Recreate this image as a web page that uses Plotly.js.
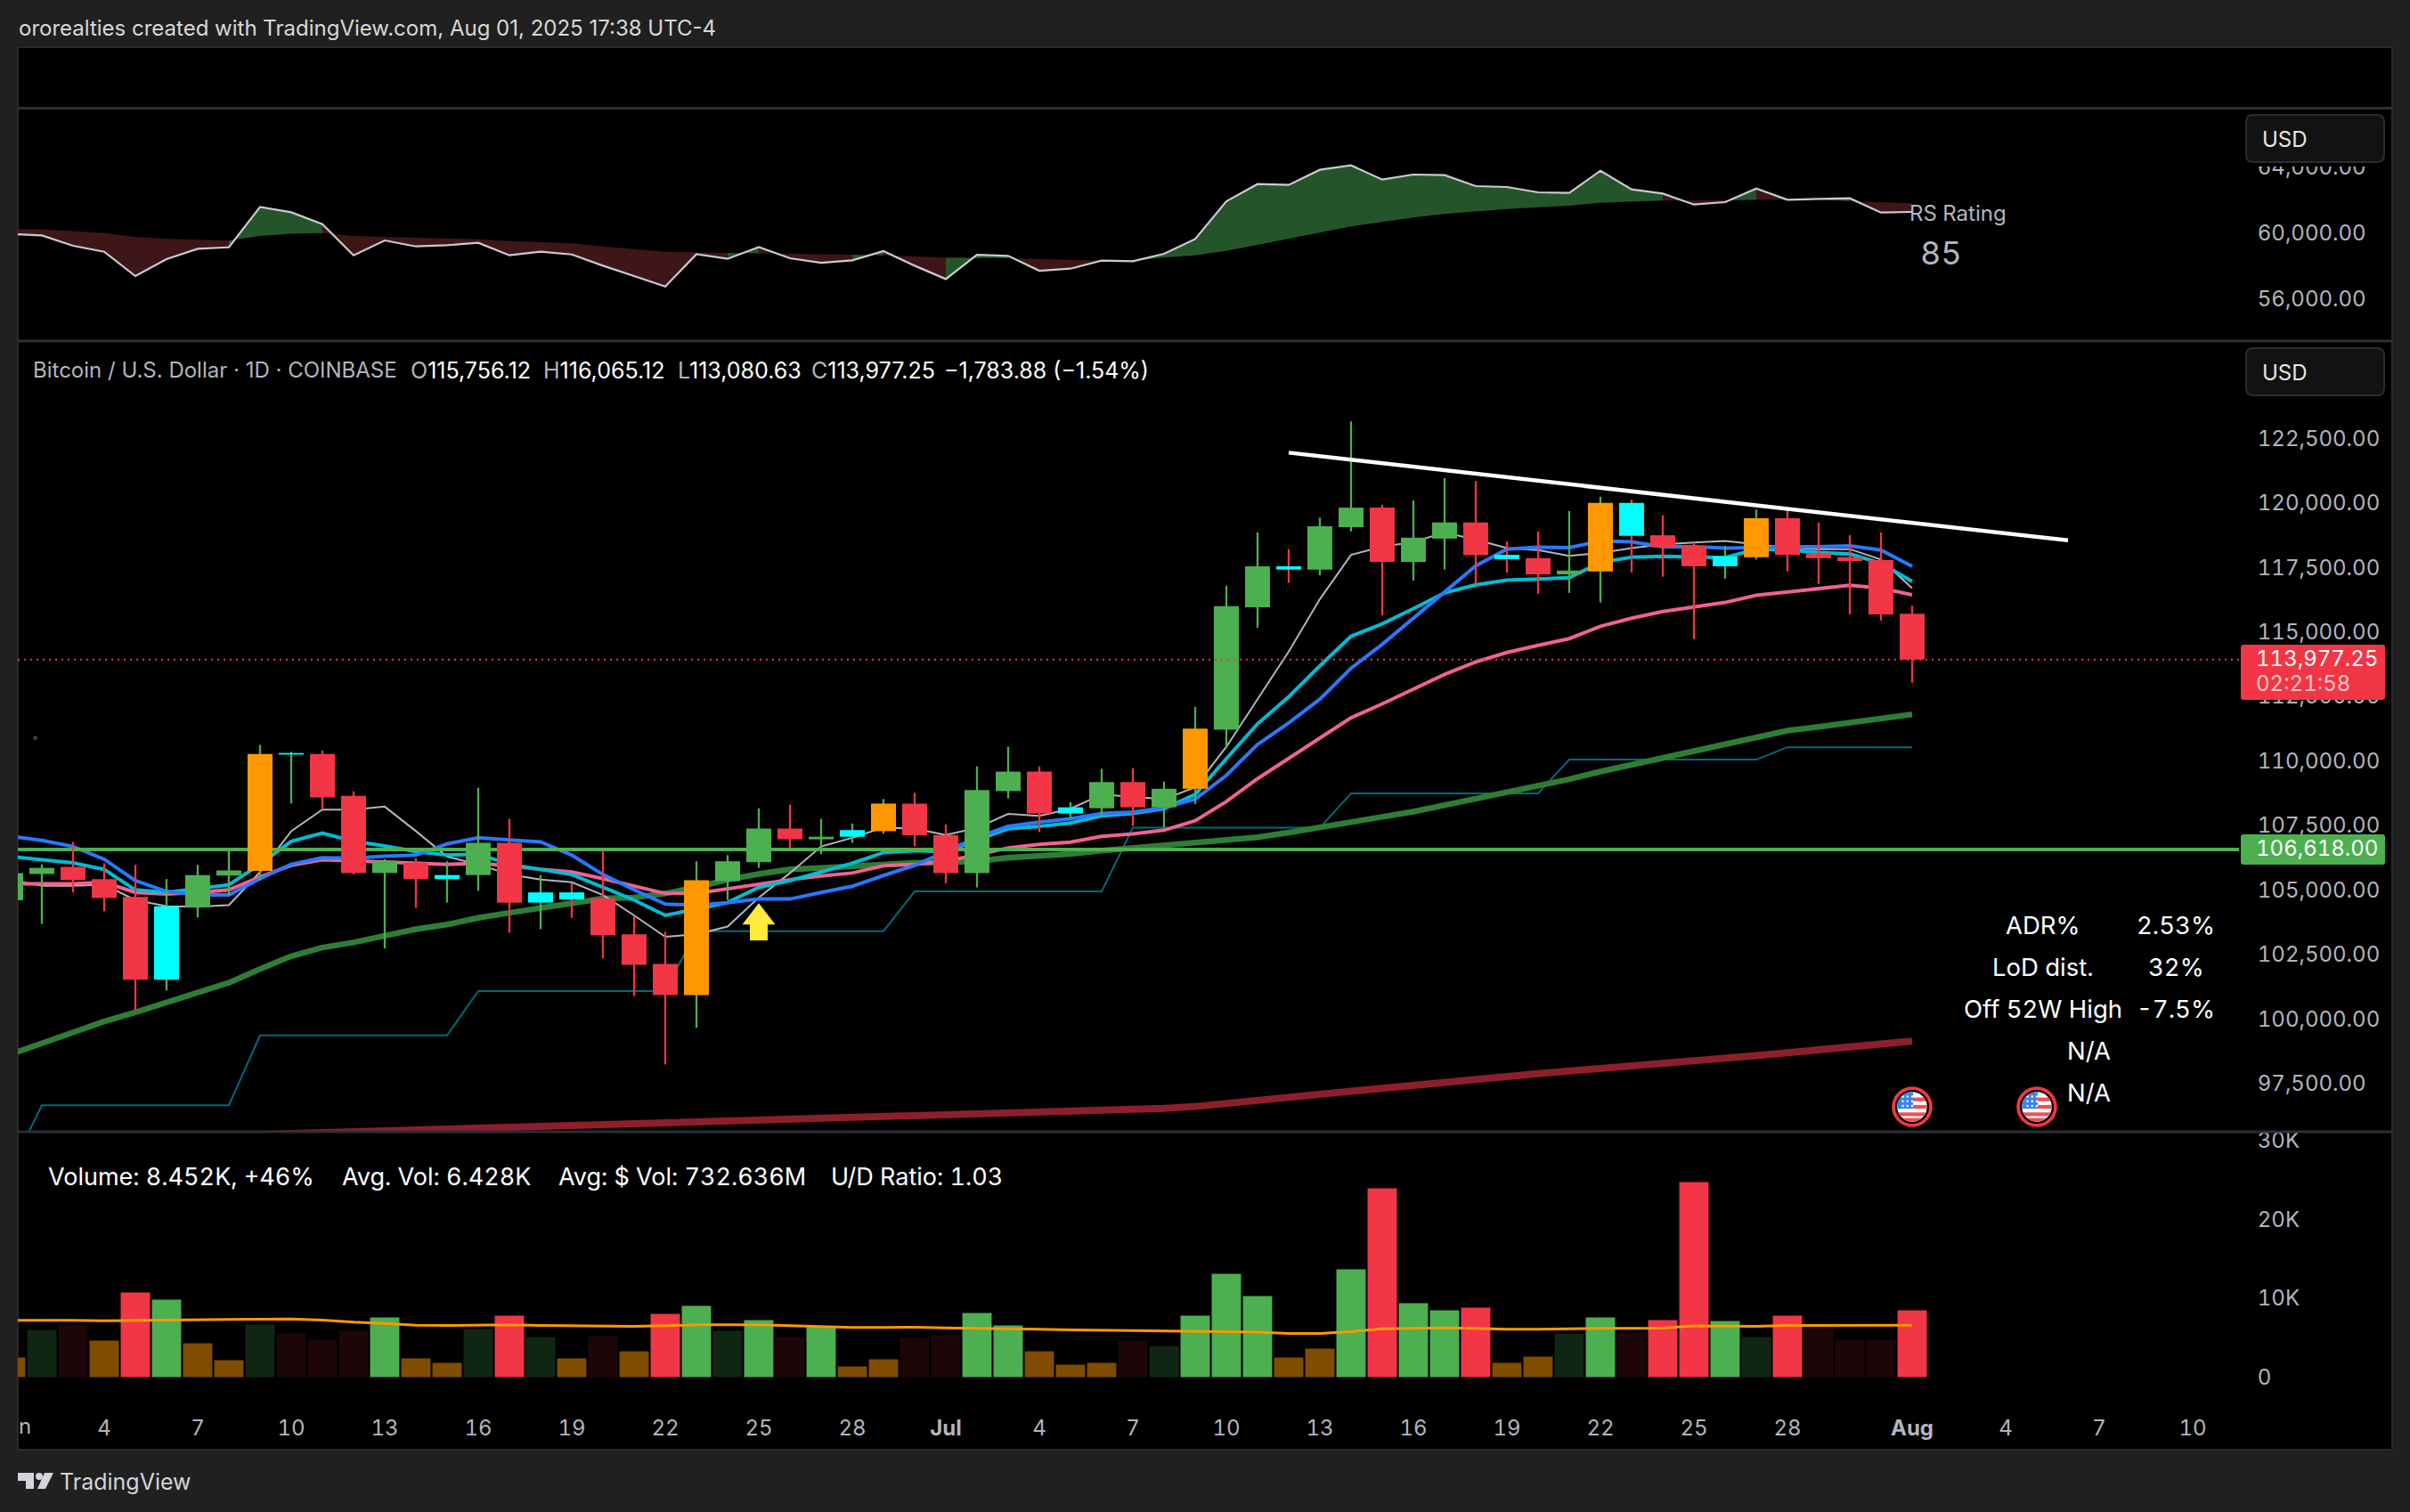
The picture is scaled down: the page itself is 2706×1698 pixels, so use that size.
<!DOCTYPE html>
<html><head><meta charset="utf-8">
<script src="https://cdn.plot.ly/plotly-3.0.1.min.js"></script>
<style>html,body{margin:0;padding:0;background:#202020;overflow:hidden}#c{width:2706px;height:1698px}
svg text{font-variant-numeric:tabular-nums;font-feature-settings:"tnum" 1}
.annotation[data-index="0"] text,.annotation[data-index="1"] text,.annotation[data-index="2"] text,.annotation[data-index="3"] text,.annotation[data-index="4"] text,.annotation[data-index="5"] text,.annotation[data-index="6"] text{font-variant-numeric:normal;font-feature-settings:"tnum" 0}</style>
</head><body><div id="c"></div>
<script>
const dates=["2025-06-01","2025-06-02","2025-06-03","2025-06-04","2025-06-05","2025-06-06","2025-06-07","2025-06-08","2025-06-09","2025-06-10","2025-06-11","2025-06-12","2025-06-13","2025-06-14","2025-06-15","2025-06-16","2025-06-17","2025-06-18","2025-06-19","2025-06-20","2025-06-21","2025-06-22","2025-06-23","2025-06-24","2025-06-25","2025-06-26","2025-06-27","2025-06-28","2025-06-29","2025-06-30","2025-07-01","2025-07-02","2025-07-03","2025-07-04","2025-07-05","2025-07-06","2025-07-07","2025-07-08","2025-07-09","2025-07-10","2025-07-11","2025-07-12","2025-07-13","2025-07-14","2025-07-15","2025-07-16","2025-07-17","2025-07-18","2025-07-19","2025-07-20","2025-07-21","2025-07-22","2025-07-23","2025-07-24","2025-07-25","2025-07-26","2025-07-27","2025-07-28","2025-07-29","2025-07-30","2025-07-31","2025-08-01"];
const opens=[104650,105665,105942,105467,104775,101569,104379,105606,105784,110296,110316,108693,105705,106101,105467,105626,106872,104557,104953,104715,103330,102182,100975,105388,106120,107427,107011,107110,107328,108396,107180,105702,108879,109636,108011,108214,109230,108251,108971,111262,116009,117597,117468,119112,119869,117763,118668,119296,118040,117911,117283,117394,120053,118798,118391,117597,117948,119462,118096,117948,117837,115756.12];
const closes=[105700,105903,105428,104735,101569,104419,105626,105804,110316,110356,108634,105705,106180,105467,105626,106872,104557,104953,104676,103290,102143,100975,105428,106160,107427,107011,107110,107367,108396,107169,105702,108916,109636,108011,108251,109230,108251,108971,111299,116045,117597,117468,119148,119869,117763,118705,119296,118022,117874,117283,117431,120053,118779,118336,117597,117985,119462,118040,117911,117800,115732,113977.25];
const highs=[105950,106041,106912,106081,106022,105467,106022,106556,110672,110400,110454,108871,106239,106279,106160,109010,107803,105626,105309,106556,104043,103429,106160,106398,108218,108357,107803,107624,108574,108812,107585,109840,110597,109840,108454,109747,109766,109249,112148,116840,118908,118262,119481,123212,119980,120146,121014,120903,118557,118945,119739,120294,120183,119573,118520,118391,119795,119832,119296,118798,118908,116065.12];
const lows=[104400,103726,104953,104221,100381,101153,103983,104854,105408,108396,108179,105650,102776,104359,104557,105012,103389,103528,103963,102400,100935,98284,99708,104656,105903,106675,106437,106872,107229,106734,105309,105148,108602,107291,107826,107863,107531,107475,108380,110560,115214,116951,117246,118945,115695,117043,117468,116914,117357,116526,116563,116193,117357,117191,114771,117117,117856,117394,116914,115732,115491,113080.63];
const candleClass=["G","G","R","R","R","C","G","G","O","C","R","R","G","R","C","G","R","C","C","R","R","R","O","G","G","R","G","C","O","R","R","G","G","R","C","G","R","G","O","G","G","C","G","G","R","G","G","R","C","R","G","O","C","R","R","C","O","R","R","R","R","R"];
const volumes=[2480,5980,6650,4620,10710,9810,4290,2140,6650,5530,4740,5860,7560,2370,1800,6090,7780,5080,2370,5190,3270,8010,9020,5860,7220,5080,6320,1350,2260,4960,5300,8120,6540,3270,1580,1800,4620,3950,7780,13080,10260,2480,3610,13650,23910,9360,8460,8800,1800,2590,5530,7560,5640,7220,24700,7110,5080,7780,6200,4740,4740,8452];
const volumeClass=["o","dg","dr","o","r","g","o","o","dg","dr","dr","dr","g","o","o","dg","r","dg","o","dr","o","r","g","dg","g","dr","g","o","o","dr","dr","g","g","o","o","o","dr","dg","g","g","g","o","o","g","r","g","g","r","o","o","dg","g","dr","r","r","g","dg","r","dr","dr","dr","r"];
const volumeMA=[7180,7220,7180,7140,7180,7260,7290,7290,7370,7370,7220,6950,6800,6580,6540,6620,6620,6540,6500,6430,6430,6500,6620,6620,6620,6500,6350,6280,6280,6320,6240,6200,6170,6050,5980,5940,5900,5860,5790,5710,5680,5530,5530,5750,6130,6170,6240,6170,6050,6050,6130,6170,6170,6200,6470,6430,6430,6540,6540,6500,6500,6580];
const maBlue=[107130,106971,106734,106239,105408,104992,104854,104854,105487,106041,106299,106279,106358,106398,106833,107070,106991,106912,106398,105646,105052,104498,104458,104557,104696,104696,104953,105190,105606,106002,106534,107088,107513,107678,107808,108011,108067,108233,108565,109489,110689,111521,112444,113644,114568,115584,116637,117615,118262,118336,118317,118576,118539,118354,118354,118299,118317,118354,118354,118391,118225,117597];
const maCyan=[106338,106219,106101,105844,105052,104953,105092,105250,106041,106932,107249,106932,106753,106536,106398,106437,106041,105844,105646,105151,104656,104062,104300,104557,105151,105408,105745,106081,106496,106576,106534,106995,107420,107513,107642,107919,108011,108196,108750,110135,111483,112536,113737,114882,115362,115953,116563,116877,117061,117098,117154,117745,117948,117985,117948,117930,118262,118225,118133,118077,117708,117006];
const maPink=[105289,105289,105289,105348,104953,104893,104953,105052,105547,106002,106219,106180,106140,106081,106041,106081,105982,105844,105745,105487,105210,104913,104913,105092,105289,105447,105586,105705,105982,106041,106165,106404,106681,106811,106903,107125,107217,107365,107734,108473,109360,110135,110930,111723,112259,112813,113404,113885,114254,114531,114790,115270,115584,115842,116009,116193,116470,116600,116747,116858,116747,116489];
const maGray=[105447,105210,105210,105250,104656,104419,104399,104458,105745,107328,108159,108159,108278,107328,106338,106041,105646,105447,105348,104854,104062,103231,103330,103627,104755,105705,106734,107070,107466,107427,107180,107457,107993,107919,108196,108750,108658,108565,109027,110597,112444,114291,116323,118040,118354,118539,118908,118631,118299,118225,118003,118114,118299,118447,118520,118576,118447,118317,118262,118262,117856,116747];
const maGreen=[98680,99115,99510,99946,100303,100698,101094,101450,101984,102479,102815,103014,103271,103528,103707,103964,104161,104359,104557,104715,104755,104913,105151,105447,105665,105844,105903,105982,106041,106101,106109,106165,106294,106367,106441,106570,106663,106755,106847,106977,107088,107272,107494,107715,107882,108085,108325,108565,108842,109101,109341,109636,109895,110172,110468,110726,110985,111225,111372,111520,111687,111853];
const maRed=[95290,95325,95360,95395,95430,95465,95500,95535,95570,95605,95640,95675,95710,95740,95768,95796,95824,95850,95885,95920,95955,95990,96025,96060,96095,96130,96170,96210,96250,96290,96330,96357,96375,96394,96420,96467,96523,96578,96652,96781,96910,97003,97114,97243,97354,97483,97594,97705,97816,97927,98019,98130,98222,98315,98407,98499,98628,98739,98850,98961,99072,99183];
const tealStep=[94230,96700,96700,96700,96700,96700,96700,96700,99410,99410,99410,99410,99410,99410,99410,101130,101130,101130,101130,101130,101130,101130,103450,103450,103450,103450,103450,103450,103450,104990,104990,104990,104990,104990,104990,104990,107460,107460,107460,107460,107460,107460,107460,108790,108790,108790,108790,108790,108790,108790,110100,110100,110100,110100,110100,110100,110100,110580,110580,110580,110580,110580];
const rsLine=[59962,59872,59241,58881,57403,58431,59061,59151,61602,61278,60557,58665,59566,59205,59277,59422,58665,58881,58719,58034,57403,56773,58737,58449,59169,58485,58214,58358,58917,58034,57223,58701,58629,57728,57854,58340,58304,58755,59656,61945,62991,62937,63856,64126,63261,63567,63531,62864,62810,62486,62450,63801,62666,62414,61747,61891,62720,62036,62090,62126,61261,61297];
const rsMA=[60269,60233,60142,60016,59782,59656,59602,59566,59836,59980,60016,59836,59782,59728,59692,59638,59530,59458,59386,59205,59061,58881,58845,58809,58791,58755,58719,58701,58665,58575,58521,58521,58485,58431,58376,58340,58304,58521,58665,58936,59296,59657,60053,60414,60684,60954,61171,61333,61477,61585,61675,61855,61927,61981,61981,61999,62036,62036,62036,61945,61873,61819];
const trendDates=["2025-07-12","2025-08-06"];
const trendPrices=[122000,118600];
const supportLevel=106618;
const lastClose=113977.25;
const priceTicks=[97500,100000,102500,105000,107500,110000,112500,115000,117500,120000,122500];
const rsTicks=[56000,60000,64000];
const volumeTicks=[0,10000,20000,30000];
const volumeTickText=["0","10K","20K","30K"];
const timeTickDates=["2025-06-04","2025-06-07","2025-06-10","2025-06-13","2025-06-16","2025-06-19","2025-06-22","2025-06-25","2025-06-28","2025-07-01","2025-07-04","2025-07-07","2025-07-10","2025-07-13","2025-07-16","2025-07-19","2025-07-22","2025-07-25","2025-07-28","2025-08-01","2025-08-04","2025-08-07","2025-08-10"];
const timeTickText=["4","7","10","13","16","19","22","25","28","<b>Jul</b>","4","7","10","13","16","19","22","25","28","<b>Aug</b>","4","7","10"];
const arrowDate=["2025-06-25"];
const arrowHead=[103983];
const arrowBase=[103090];
const arrowStem=[720];
const statLabels=["ADR%","LoD dist.","Off 52W High"];
const statValues=["2.53%","32%","-7.5%"];

const DAY=86400000, W=2706, H=1698;
const fx=p=>p/W, fy=p=>1-p/H;
const GREEN='#4caf50',RED='#f23645',ORANGE='#ff9800',CYAN='#00ffff';
const candleColor={G:GREEN,R:RED,O:ORANGE,C:CYAN};
const volColor={g:GREEN,r:RED,o:'#7f4c00',dg:'#0f2613',dr:'#1c0608'};
const font='Inter, "Noto Sans", sans-serif';
const xRange=['2025-06-01T05:30','2025-08-11T11:40'];
const line=(x,y,color,width,ya,extra)=>Object.assign({type:'scatter',mode:'lines',x,y,xaxis:'x',yaxis:ya,line:{color,width},hoverinfo:'skip',showlegend:false},extra||{});

const traces=[];
// RS fill: each day's segment takes the colour of that day's RS vs its MA
let s=0;
for(let i=1;i<=dates.length;i++){
  const up=k=>rsLine[k]>rsMA[k];
  if(i===dates.length||(i>1&&up(i)!==up(i-1))){
    const a=Math.max(s-1,0),b=i;
    const col=up(i-1)?'#24552a':'#3f1618';
    traces.push(line(dates.slice(a,b),rsMA.slice(a,b),'rgba(0,0,0,0)',0,'y'));
    traces.push(line(dates.slice(a,b),rsLine.slice(a,b),'rgba(0,0,0,0)',0,'y',{fill:'tonexty',fillcolor:col}));
    s=i;
  }
}
traces.push(line(dates,rsLine,'#c9cbd1',2.2,'y'));

// the price scale itself
traces.push(line(dates,closes,'rgba(0,0,0,0)',0,'y2'));
// moving averages under the candles
traces.push(line(dates,tealStep,'#006b7d',2,'y4'));
traces.push(line(dates,maRed,'#8c1f2b',8,'y4'));
traces.push(line(dates,maGreen,'#2f7d35',6.5,'y4'));
traces.push(line(dates,maGray,'#b2b5be',2,'y4'));
traces.push(line(dates,maPink,'#f06292',4,'y4'));
traces.push(line(dates,maCyan,'#00bcd4',4,'y4'));
traces.push(line(dates,maBlue,'#2979ff',4,'y4'));
traces.push(line([xRange[0],xRange[1]],[supportLevel,supportLevel],GREEN,4,'y4'));
traces.push({type:'scatter',mode:'markers',x:['2025-06-01T19:00'],y:[110945],xaxis:'x',yaxis:'y4',marker:{symbol:'square',size:4,color:'#454545'},hoverinfo:'skip',showlegend:false});

// candles, on an overlay axis so they sit above the lines
traces.push({type:'bar',x:dates,base:lows,y:highs.map((h,i)=>h-lows[i]),xaxis:'x',yaxis:'y5',width:0.065*DAY,
  marker:{color:closes.map((c,i)=>c>=opens[i]?GREEN:RED),line:{width:0}},hoverinfo:'skip',showlegend:false});
traces.push({type:'bar',x:dates,base:opens.map((o,i)=>Math.min(o,closes[i])),y:opens.map((o,i)=>Math.abs(o-closes[i])),xaxis:'x',yaxis:'y5',width:0.8*DAY,
  marker:{color:candleClass.map(k=>candleColor[k]),line:{width:0}},hoverinfo:'skip',showlegend:false});

// things above the candles
traces.push({type:'bar',x:arrowDate,base:arrowBase,y:arrowStem,xaxis:'x',yaxis:'y6',width:0.57*DAY,marker:{color:'#ffeb3b',line:{width:0}},hoverinfo:'skip',showlegend:false});
traces.push({type:'scatter',mode:'markers',x:arrowDate,y:arrowHead,xaxis:'x',yaxis:'y6',marker:{symbol:'triangle-up',size:32,color:'#ffeb3b',line:{width:0}},hoverinfo:'skip',showlegend:false});
traces.push(line([xRange[0],xRange[1]],[lastClose,lastClose],RED,2,'y6',{line:{color:RED,width:2,dash:'2px,5px'}}));
traces.push(line(trendDates,trendPrices,'#ffffff',4.5,'y6'));

// volume
traces.push({type:'bar',x:dates,y:volumes,xaxis:'x',yaxis:'y3',width:0.94*DAY,marker:{color:volumeClass.map(k=>volColor[k]),line:{width:0}},hoverinfo:'skip',showlegend:false});
traces.push(line(dates,volumeMA,ORANGE,3,'y3'));

const priceRange=[95707,126328];
const yAxisBase={side:'right',showgrid:false,zeroline:false,showline:false,ticks:'outside',ticklen:15,tickcolor:'rgba(0,0,0,0)',
  tickfont:{family:font,size:24,color:'#b2b5be'},anchor:'x',fixedrange:true};
const overlay=()=>({overlaying:'y2',side:'right',domain:[fy(1270),fy(383)],range:priceRange,visible:false,fixedrange:true,anchor:'x'});

const T=(text,px,py,size,color,anchor,extra)=>Object.assign({xref:'paper',yref:'paper',x:fx(px),y:fy(py),text,showarrow:false,xanchor:anchor||'left',yanchor:'middle',align:anchor||'left',font:{family:font,size,color},borderpad:0},extra||{});
const gray='#b2b5be';
const val=t=>'<span style="color:#ffffff">'+t+'</span>';
const annotations=[
 T('ororealties created with TradingView.com, Aug 01, 2025 17:38 UTC-4',20,31,24,'#d8d8d8'),
 T('Bitcoin / U.S. Dollar · 1D · COINBASE',36,416,24,gray),
 T('O'+val('115,756.12'),460,416,25,gray),
 T('H'+val('116,065.12'),609,416,25,gray),
 T('L'+val('113,080.63'),760,416,25,gray),
 T('C'+val('113,977.25'),910,416,25,gray),
 T(val('−1,783.88 (−1.54%)'),1059,416,25,gray),
 T('RS Rating',2143,239.5,24,gray),
 T('85',2155,284,36,gray),
 T('USD',2539,156.5,24,'#e6e6e6'),
 T('USD',2539,418.5,24,'#e6e6e6'),
 T('113,977.25',2532,739,24,'#ffffff'),
 T('02:21:58',2532,767,24,'#fbc4c9'),
 T('106,618.00',2532,952,24,'#ffffff'),
 T('Volume: 8.452K, +46%',53,1321,27,'#ffffff'),
 T('Avg. Vol: 6.428K',383,1321,27,'#ffffff'),
 T('Avg: $ Vol: 732.636M',626,1321,27,'#ffffff'),
 T('U/D Ratio: 1.03',932,1321,27,'#ffffff'),
 T('N/A',2345,1180,27.5,'#ffffff','center'),
 T('N/A',2345,1227,27.5,'#ffffff','center'),
 T('n',20,1601,24,gray),
 T('TradingView',66,1664,25,'#d1d4dc')
];
statLabels.forEach((l,i)=>{annotations.push(T(l,2294,1039+47*i,27.5,'#ffffff','center'));annotations.push(T(statValues[i],2443,1039+47*i,27.5,'#ffffff','center'));});

const rr=(x0,y0,x1,y1,r)=>`M${fx(x0+r)},${fy(y0)} L${fx(x1-r)},${fy(y0)} Q${fx(x1)},${fy(y0)} ${fx(x1)},${fy(y0+r)} L${fx(x1)},${fy(y1-r)} Q${fx(x1)},${fy(y1)} ${fx(x1-r)},${fy(y1)} L${fx(x0+r)},${fy(y1)} Q${fx(x0)},${fy(y1)} ${fx(x0)},${fy(y1-r)} L${fx(x0)},${fy(y0+r)} Q${fx(x0)},${fy(y0)} ${fx(x0+r)},${fy(y0)} Z`;
const poly=pts=>'M'+pts.map(p=>fx(p[0])+','+fy(p[1])).join(' L')+' Z';
const sep=py=>({type:'line',xref:'paper',yref:'paper',x0:fx(20),x1:fx(2686),y0:fy(py),y1:fy(py),line:{color:'#2b2e3b',width:3},layer:'above'});
const shapes=[
 {type:'rect',xref:'paper',yref:'paper',x0:fx(20),x1:fx(2686),y0:fy(1628),y1:fy(53),fillcolor:'#000000',line:{color:'#2a2a2a',width:2},layer:'below'},
 {type:'rect',xref:'paper',yref:'paper',x0:fx(2516),x1:fx(2685),y0:fy(187),y1:fy(123),fillcolor:'#000000',line:{width:0},layer:'above'},
 sep(121.5),sep(383),sep(1271),
 {type:'path',xref:'paper',yref:'paper',path:rr(2522,129,2677,182,8),fillcolor:'#121212',line:{color:'#2c2c2c',width:2},layer:'above'},
 {type:'path',xref:'paper',yref:'paper',path:rr(2522,391,2677,444,8),fillcolor:'#121212',line:{color:'#2c2c2c',width:2},layer:'above'},
 {type:'path',xref:'paper',yref:'paper',path:rr(2516,724,2678,786,3),fillcolor:RED,line:{width:0},layer:'above'},
 {type:'path',xref:'paper',yref:'paper',path:rr(2516,937,2678,971,3),fillcolor:GREEN,line:{width:0},layer:'above'},
 {type:'path',xref:'paper',yref:'paper',path:poly([[20,1654],[38,1654],[38,1672],[29,1672],[29,1663],[20,1663]]),fillcolor:'#d1d4dc',line:{width:0},layer:'above'},
 {type:'circle',xref:'paper',yref:'paper',x0:fx(40),x1:fx(48),y0:fy(1662),y1:fy(1654),fillcolor:'#d1d4dc',line:{width:0},layer:'above'},
 {type:'path',xref:'paper',yref:'paper',path:poly([[50,1654],[60,1654],[51,1672],[42,1672]]),fillcolor:'#d1d4dc',line:{width:0},layer:'above'}
];
const flagSvg='<svg xmlns="http://www.w3.org/2000/svg" viewBox="0 0 44 44"><defs><clipPath id="a"><circle cx="22" cy="22" r="16"/></clipPath></defs><circle cx="22" cy="22" r="20" fill="#000" stroke="#f23645" stroke-width="3.5"/><g clip-path="url(#a)"><rect x="0" y="0" width="44" height="44" fill="#ffffff"/><rect x="22" y="12" width="16" height="4" fill="#f05050"/><rect x="22" y="20" width="16" height="4" fill="#f05050"/><rect x="6" y="28" width="32" height="4" fill="#f05050"/><rect x="6" y="34" width="32" height="4" fill="#f05050"/><rect x="6" y="6" width="17" height="18" fill="#3b82f6"/><g fill="#fff"><circle cx="12" cy="11" r="1.2"/><circle cx="17" cy="11" r="1.2"/><circle cx="22" cy="11" r="1.2"/><circle cx="12" cy="16" r="1.2"/><circle cx="17" cy="16" r="1.2"/><circle cx="22" cy="16" r="1.2"/><circle cx="12" cy="21" r="1.2"/><circle cx="17" cy="21" r="1.2"/><circle cx="22" cy="21" r="1.2"/></g></g></svg>';
const flagSrc='data:image/svg+xml;charset=utf-8,'+encodeURIComponent(flagSvg);
const flag=px=>({source:flagSrc,xref:'paper',yref:'paper',x:fx(px-23),y:fy(1220),sizex:46/W,sizey:46/H,sizing:'stretch',xanchor:'left',yanchor:'top',layer:'above'});

const layout={
 width:W,height:H,margin:{l:0,r:0,t:0,b:0,pad:0},paper_bgcolor:'#202020',plot_bgcolor:'#000000',
 barmode:'overlay',showlegend:false,hovermode:false,dragmode:false,
 xaxis:{type:'date',domain:[fx(20),fx(2514)],range:xRange,anchor:'y3',tickmode:'array',tickvals:timeTickDates,ticktext:timeTickText,showgrid:false,zeroline:false,showline:false,
   ticks:'outside',ticklen:0,tickangle:0,tickfont:{family:font,size:24,color:gray},fixedrange:true},
 yaxis:Object.assign({},yAxisBase,{domain:[fy(382),fy(122)],range:[53514,67568],tickmode:'array',tickvals:rsTicks,ticktext:rsTicks.map(v=>v.toLocaleString('en-US',{minimumFractionDigits:2}))}),
 yaxis2:Object.assign({},yAxisBase,{domain:[fy(1270),fy(383)],range:[95655,126276],tickmode:'array',tickvals:priceTicks,ticktext:priceTicks.map(v=>v.toLocaleString('en-US',{minimumFractionDigits:2}))}),
 yaxis3:Object.assign({},yAxisBase,{domain:[fy(1582),fy(1271)],range:[-4002,31060],tickmode:'array',tickvals:volumeTicks,ticktext:volumeTickText}),
 yaxis4:overlay(),yaxis5:overlay(),yaxis6:overlay(),
 annotations,shapes,images:[flag(2147),flag(2287)]
};
Plotly.newPlot('c',traces,layout,{staticPlot:true,displayModeBar:false,responsive:false});
</script></body></html>
